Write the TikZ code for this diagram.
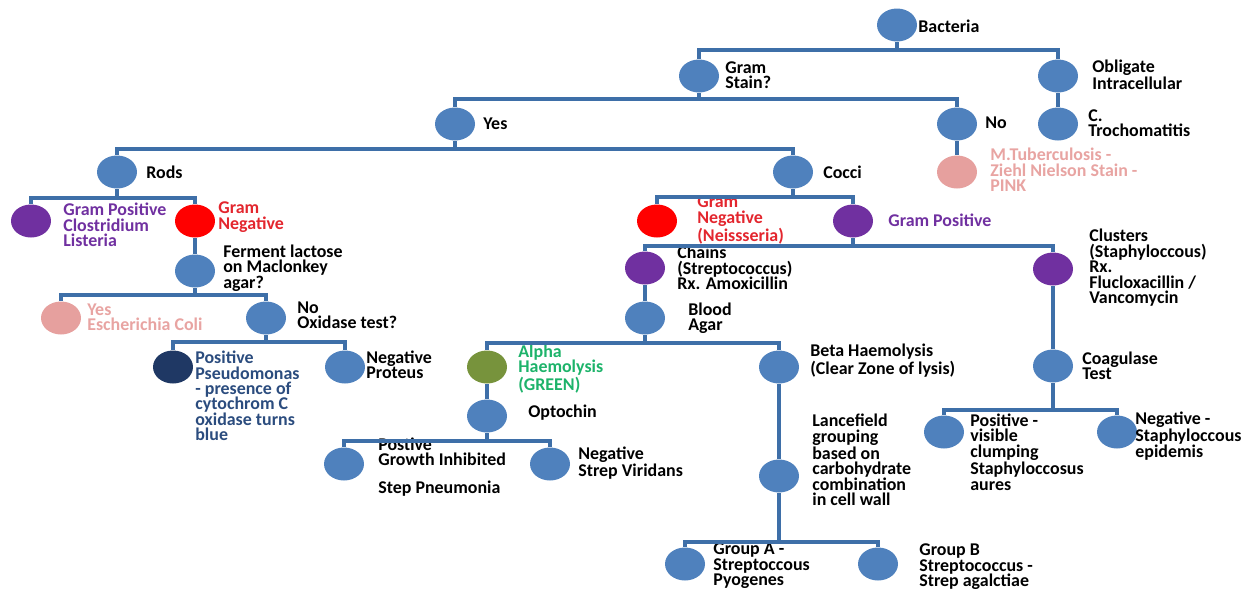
\documentclass[tikz,border=0pt]{standalone}
\usepackage{fontspec}
\setmainfont{Carlito}
\usetikzlibrary{shapes.geometric}
\definecolor{dotblue}{HTML}{4F81BD}
\definecolor{linkblue}{HTML}{3E6FA8}
\definecolor{gpurple}{HTML}{7030A0}
\definecolor{gred}{HTML}{FF0000}
\definecolor{gredtext}{HTML}{E3262E}
\definecolor{gpink}{HTML}{E6A09E}
\definecolor{gpinktext}{HTML}{E8A4A2}
\definecolor{golive}{HTML}{77933C}
\definecolor{ggreen}{HTML}{1DB36A}
\definecolor{gnavy}{HTML}{1F3864}
\definecolor{gnavytext}{HTML}{2B4C7E}
\tikzset{
  dot/.style={ellipse, fill=#1, minimum width=0.8cm, minimum height=0.66cm, inner sep=0pt},
  dot/.default=dotblue,
  lbl/.style={anchor=west, align=left, inner sep=0pt, text=#1,
    font=\fontsize{10.2}{8.8}\selectfont\bfseries},
  lbl/.default=black,
  link/.style={draw=linkblue, line width=2pt}
}
\begin{document}
\begin{tikzpicture}[x=0.02cm,y=-0.02cm]
\useasboundingbox (0,0) rectangle (1251,599);

% circles
\node[dot] (bact) at (897,25) {};
\node[dot] (gram) at (699,76) {};
\node[dot] (oblig) at (1058,76) {};
\node[dot] (yes) at (455,124) {};
\node[dot] (no) at (957,124) {};
\node[dot] (troch) at (1058,124) {};
\node[dot] (rods) at (117,172) {};
\node[dot] (cocci) at (793,172) {};
\node[dot=gpink] (mtb) at (957,172) {};
\node[dot=gpurple] (gpos) at (31,221) {};
\node[dot=gred] (gneg) at (195,221) {};
\node[dot] (ferm) at (195,271) {};
\node[dot=gpink] (ecoli) at (61,318) {};
\node[dot] (oxid) at (266,318) {};
\node[dot=gnavy] (pseudo) at (173,367) {};
\node[dot] (proteus) at (345,367) {};
\node[dot=gred] (neiss) at (657,221) {};
\node[dot=gpurple] (cpos) at (853,221) {};
\node[dot=gpurple] (chains) at (645,268) {};
\node[dot=gpurple] (clust) at (1053,269) {};
\node[dot] (blood) at (645,318) {};
\node[dot] (coag) at (1053,366) {};
\node[dot=golive] (alpha) at (487,367) {};
\node[dot] (beta) at (779,367) {};
\node[dot] (opto) at (487,416) {};
\node[dot] (lance) at (779,476) {};
\node[dot] (pneu) at (344,464) {};
\node[dot] (virid) at (550,464) {};
\node[dot] (spos) at (944,432) {};
\node[dot] (sneg) at (1117,432) {};
\node[dot] (grpa) at (685,564) {};
\node[dot] (grpb) at (878,564) {};

% labels
\node[lbl] (bact-t) at (918,26) {Bacteria};
\node[lbl] (gram-t) at (725,75) {Gram\\Stain?};
\node[lbl] (oblig-t) at (1092,75) {Obligate\\Intracellular};
\node[lbl] (yes-t) at (483,124) {Yes};
\node[lbl] (no-t) at (985,123) {No};
\node[lbl] (troch-t) at (1088,123) {C.\\Trochomatitis};
\node[lbl] (rods-t) at (146,172) {Rods};
\node[lbl] (cocci-t) at (823,172) {Cocci};
\node[lbl=gpinktext] (mtb-t) at (990,170) {M.Tuberculosis -\\Ziehl Nielson Stain -\\PINK};
\node[lbl=gpurple] (gpos-t) at (63,225) {Gram Positive\\Clostridium\\Listeria};
\node[lbl=gredtext] (gneg-t) at (218,217) {Gram\\Negative};
\node[lbl] (ferm-t) at (223,268) {Ferment lactose\\on Maclonkey\\agar?};
\node[lbl=gpinktext] (ecoli-t) at (87,317) {Yes\\Escherichia Coli};
\node[lbl] (oxid-t) at (297,315) {No\\Oxidase test?};
\node[lbl=gnavytext] (pseudo-t) at (195,396) {Positive\\Pseudomonas\\- presence of\\cytochrom C\\oxidase turns\\blue};
\node[lbl] (proteus-t) at (366,365) {Negative\\Proteus};
\node[lbl=gredtext] (neiss-t) at (697,220) {Gram\\Negative\\(Neissseria)};
\node[lbl=gpurple] (cpos-t) at (888,220) {Gram Positive};
\node[lbl] (chains-t) at (677,268) {Chains\\(Streptococcus)\\Rx. Amoxicillin};
\node[lbl] (clust-t) at (1089,268) {Clusters\\(Staphyloccous)\\Rx.\\Flucloxacillin /\\Vancomycin};
\node[lbl] (blood-t) at (688,318) {Blood\\Agar};
\node[lbl] (coag-t) at (1082,366) {Coagulase\\Test};
\node[lbl=ggreen] (alpha-t) at (518,369) {Alpha\\Haemolysis\\(GREEN)};
\node[lbl] (beta-t) at (810,361) {Beta Haemolysis\\(Clear Zone of lysis)};
\node[lbl] (opto-t) at (528,413) {Optochin};
\node[lbl] (lance-t) at (812,460) {Lancefield\\grouping\\based on\\carbohydrate\\combination\\in cell wall};
\node[lbl] (pneu-t) at (378,467) {Postive\\Growth Inhibited\\[7pt]Step Pneumonia};
\node[lbl] (virid-t) at (578,463) {Negative\\Strep Viridans};
\node[lbl] (spos-t) at (970,452) {Positive -\\visible\\clumping\\Staphyloccosus\\aures};
\node[lbl] (sneg-t) at (1135,436) {Negative -\\Staphyloccous\\epidemis};
\node[lbl] (grpa-t) at (713,566) {Group A -\\Streptoccous\\Pyogenes};
\node[lbl] (grpb-t) at (919,567) {Group B\\Streptococcus -\\Strep agalctiae};

% connectors
\draw[link] (bact) -- (bact |- 0,50) -| (gram);
\draw[link] (bact |- 0,50) -| (oblig);
\draw[link] (oblig) -- (troch);
\draw[link] (gram) -- (gram |- 0,99) -| (yes);
\draw[link] (gram |- 0,99) -| (no);
\draw[link] (no) -- (mtb);
\draw[link] (yes) -- (yes |- 0,149) -| (rods);
\draw[link] (yes |- 0,149) -| (cocci);
\draw[link] (rods) -- (rods |- 0,198) -| (gpos);
\draw[link] (rods |- 0,198) -| (gneg);
\draw[link] (gneg) -- (ferm);
\draw[link] (ferm) -- (ferm |- 0,295) -| (ecoli);
\draw[link] (ferm |- 0,295) -| (oxid);
\draw[link] (oxid) -- (oxid |- 0,342) -| (pseudo);
\draw[link] (oxid |- 0,342) -| (proteus);
\draw[link] (cocci) -- (cocci |- 0,197) -| (neiss);
\draw[link] (cocci |- 0,197) -| (cpos);
\draw[link] (cpos) -- (cpos |- 0,246) -| (chains);
\draw[link] (cpos |- 0,246) -| (clust);
\draw[link] (chains) -- (blood);
\draw[link] (clust) -- (coag);
\draw[link] (blood) -- (blood |- 0,343) -| (alpha);
\draw[link] (blood |- 0,343) -| (beta);
\draw[link] (alpha) -- (opto);
\draw[link] (opto) -- (opto |- 0,441) -| (pneu);
\draw[link] (opto |- 0,441) -| (virid);
\draw[link] (beta) -- (lance);
\draw[link] (lance) -- (lance |- 0,542) -| (grpa);
\draw[link] (lance |- 0,542) -| (grpb);
\draw[link] (coag) -- (coag |- 0,410) -| (spos);
\draw[link] (coag |- 0,410) -| (sneg);
\end{tikzpicture}
\end{document}
